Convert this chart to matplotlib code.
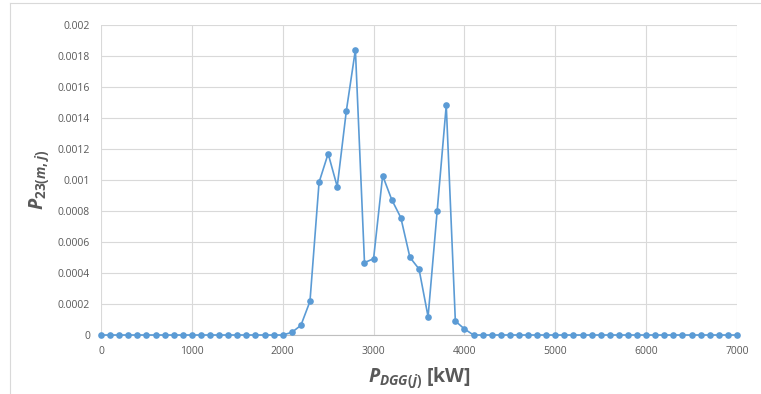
import numpy as np
import matplotlib.pyplot as plt
import matplotlib
from matplotlib.lines import Line2D

matplotlib.rcParams['font.family'] = 'Open Sans'
matplotlib.rcParams['mathtext.fontset'] = 'custom'
matplotlib.rcParams['mathtext.it'] = 'Open Sans:italic:bold'
matplotlib.rcParams['mathtext.rm'] = 'Open Sans:bold'
matplotlib.rcParams['mathtext.bf'] = 'Open Sans:bold'

# power levels in kW, 0..7000 step 100
power = np.arange(0, 7001, 100)

# nonzero probabilities between 2100 and 4000 kW
peak_power = [2100, 2200, 2300, 2400, 2500, 2600, 2700, 2800, 2900, 3000,
              3100, 3200, 3300, 3400, 3500, 3600, 3700, 3800, 3900, 4000]
peak_prob = [0.000017, 0.000062, 0.000217, 0.000985, 0.00117, 0.000957,
             0.001445, 0.00184, 0.000467, 0.000492, 0.001028, 0.000873,
             0.000757, 0.000501, 0.000426, 0.000118, 0.0008, 0.001482,
             0.00009, 0.000039]

prob = np.zeros(len(power))
for p, v in zip(peak_power, peak_prob):
    prob[p // 100] = v

gray = '#595959'
blue = '#5b9bd5'

fig = plt.figure(figsize=(7.61, 3.94), dpi=100)
ax = fig.add_axes([101 / 761, 59 / 394, 636 / 761, 310 / 394])

ax.plot(power, prob, color=blue, lw=1.2, marker='o', ms=4.8,
        markeredgewidth=0, zorder=3, clip_on=False)

ax.set_xlim(0, 7000)
ax.set_ylim(0, 0.002)
ax.set_xticks(np.arange(0, 7001, 1000))
ax.set_yticks(np.arange(0, 0.00201, 0.0002))
ax.set_yticklabels(['0', '0.0002', '0.0004', '0.0006', '0.0008', '0.001',
                    '0.0012', '0.0014', '0.0016', '0.0018', '0.002'])
ax.grid(color='#d9d9d9', lw=0.8)
ax.set_axisbelow(True)
for s in ['top', 'right', 'left']:
    ax.spines[s].set_visible(False)
ax.spines['bottom'].set_color('#bfbfbf')
ax.spines['bottom'].set_linewidth(0.8)
ax.tick_params(length=0, labelsize=7.5, colors=gray, pad=8)

ax.set_xlabel(r'$P_{DGG(j)}$ [kW]', fontsize=14, fontweight='bold',
              color=gray, labelpad=6)
ax.set_ylabel(r'$P_{23(m,j)}$', fontsize=14, color=gray, labelpad=5)

# chart frame
fig.add_artist(Line2D([10 / 761, 10 / 761], [0, 391 / 394],
                      color='#d9d9d9', lw=0.8))
fig.add_artist(Line2D([10 / 761, 1], [391 / 394, 391 / 394],
                      color='#d9d9d9', lw=0.8))

plt.savefig('out.png', dpi=100)
